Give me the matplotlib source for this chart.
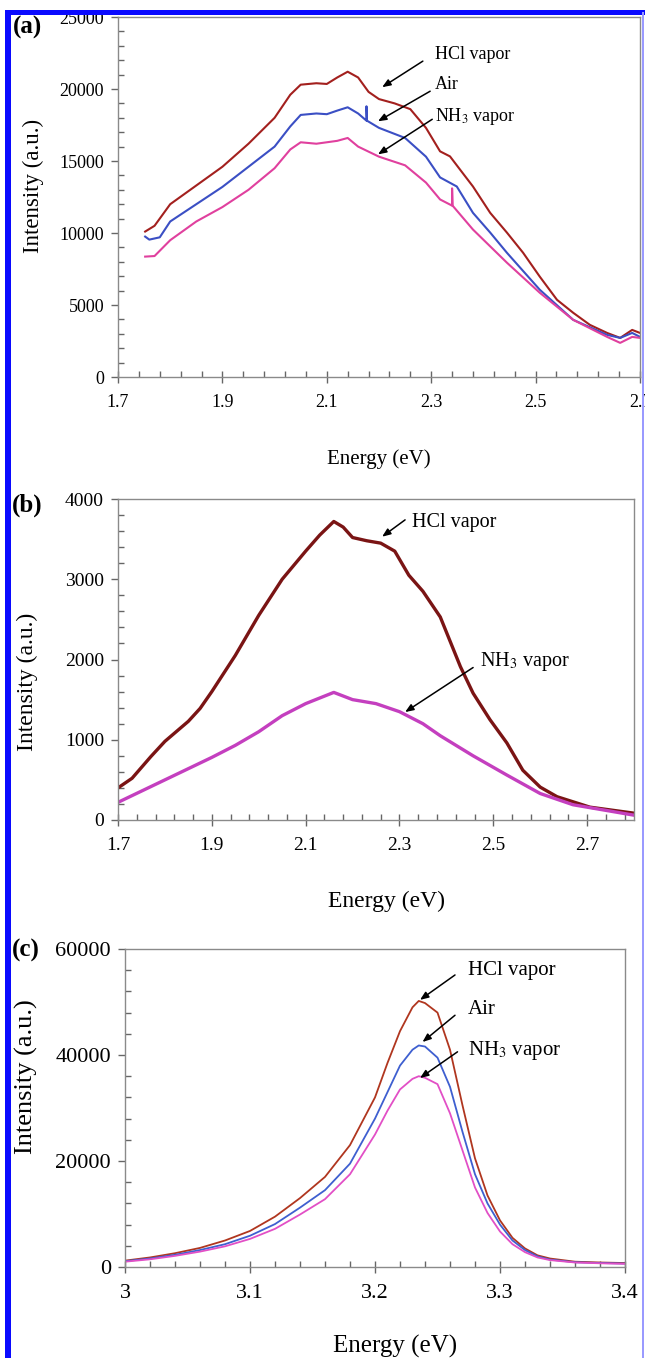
import matplotlib
matplotlib.use("Agg")
import numpy as np
import matplotlib.pyplot as plt
from matplotlib.patches import Rectangle
from matplotlib.ticker import MultipleLocator, FixedLocator

plt.rcParams['font.family'] = ['Liberation Serif', 'DejaVu Serif']
plt.rcParams['mathtext.fontset'] = 'stix'

# ---------------- Panel (a) data ----------------
a_hcl_E = [1.752, 1.77, 1.80, 1.85, 1.90, 1.95, 2.00, 2.03, 2.05, 2.08, 2.10, 2.12, 2.14, 2.16, 2.18, 2.20,
           2.23, 2.26, 2.29, 2.317, 2.336, 2.355, 2.380, 2.413, 2.445, 2.476, 2.508, 2.541, 2.572, 2.604,
           2.637, 2.662, 2.685, 2.70]
a_hcl_I = [10100, 10500, 12000, 13300, 14600, 16200, 18000, 19600, 20300, 20400, 20350, 20800, 21200, 20800,
           19800, 19300, 19000, 18600, 17300, 15670, 15320, 14415, 13230, 11400, 10030, 8630, 6970, 5360,
           4460, 3620, 3060, 2715, 3270, 3060]

a_air_E = [1.752, 1.76, 1.78, 1.80, 1.85, 1.90, 1.95, 2.00, 2.03, 2.05, 2.08, 2.10, 2.12, 2.14, 2.16, 2.176,
           2.176, 2.177, 2.20, 2.25, 2.29, 2.317, 2.349, 2.380, 2.413, 2.445, 2.508, 2.572, 2.637, 2.662,
           2.685, 2.70]
a_air_I = [9750, 9540, 9700, 10800, 12000, 13200, 14600, 16000, 17400, 18200, 18300, 18250, 18500, 18730,
           18300, 17800, 18800, 17800, 17300, 16600, 15300, 13860, 13230, 11400, 10030, 8630, 6060, 3970,
           2925, 2715, 3060, 2785]

a_nh3_E = [1.752, 1.77, 1.80, 1.85, 1.90, 1.95, 2.00, 2.03, 2.05, 2.08, 2.10, 2.12, 2.14, 2.16, 2.20, 2.25,
           2.29, 2.317, 2.34, 2.34, 2.341, 2.380, 2.445, 2.508, 2.572, 2.637, 2.662, 2.685, 2.70]
a_nh3_I = [8360, 8400, 9500, 10800, 11800, 13000, 14500, 15800, 16300, 16200, 16300, 16400, 16600, 16000,
           15300, 14700, 13500, 12330, 11900, 13100, 11900, 10240, 7940, 5850, 3970, 2785, 2370, 2785, 2715]

a_xticks = [1.7, 1.9, 2.1, 2.3, 2.5, 2.7]
a_xtick_labels = ['1.7', '1.9', '2.1', '2.3', '2.5', '2.7']

# ---------------- Panel (b) data ----------------
b_hcl_E = [1.70, 1.73, 1.77, 1.80, 1.85, 1.875, 1.90, 1.95, 2.00, 2.05, 2.10, 2.13, 2.16, 2.18, 2.20, 2.23,
           2.26, 2.29, 2.32, 2.35, 2.387, 2.43, 2.457, 2.493, 2.529, 2.563, 2.60, 2.636, 2.706, 2.80]
b_hcl_I = [400, 520, 790, 980, 1230, 1390, 1600, 2050, 2550, 3000, 3350, 3550, 3720, 3650, 3520, 3480,
           3450, 3350, 3050, 2850, 2530, 1910, 1580, 1250, 960, 620, 410, 290, 160, 85]

b_nh3_E = [1.70, 1.75, 1.80, 1.875, 1.90, 1.95, 2.00, 2.05, 2.10, 2.16, 2.20, 2.25, 2.30, 2.35, 2.387,
           2.457, 2.529, 2.60, 2.67, 2.80]
b_nh3_I = [220, 360, 500, 710, 780, 930, 1100, 1300, 1450, 1590, 1500, 1450, 1350, 1200, 1050,
           800, 560, 330, 190, 60]

b_xticks = [1.7, 1.9, 2.1, 2.3, 2.5, 2.7]
b_xtick_labels = ['1.7', '1.9', '2.1', '2.3', '2.5', '2.7']

# ---------------- Panel (c) data ----------------
c_E = [3.00, 3.02, 3.04, 3.06, 3.08, 3.10, 3.12, 3.14, 3.16, 3.18, 3.20, 3.21, 3.22, 3.23, 3.235,
       3.24, 3.25, 3.26, 3.27, 3.28, 3.29, 3.30, 3.31, 3.32, 3.33, 3.34, 3.36, 3.38, 3.40]
c_hcl_I = [1200, 1800, 2600, 3600, 5000, 6800, 9500, 13000, 17000, 23000, 32000, 38500, 44500, 49000, 50200,
           49800, 48000, 41000, 30500, 20500, 13500, 8800, 5500, 3500, 2200, 1600, 1000, 850, 750]
c_air_I = [1100, 1600, 2300, 3200, 4300, 5900, 8100, 11200, 14500, 19500, 28000, 33000, 38000, 41000, 41800,
           41600, 39500, 34000, 25500, 17500, 12000, 8000, 5000, 3200, 2000, 1400, 900, 750, 650]
c_nh3_I = [1000, 1450, 2100, 2900, 3900, 5300, 7200, 9900, 12800, 17500, 25000, 29500, 33500, 35500, 36000,
           35700, 34500, 29000, 22000, 15000, 10200, 6700, 4300, 2800, 1800, 1300, 850, 700, 600]

c_xticks = [3.0, 3.1, 3.2, 3.3, 3.4]
c_xtick_labels = ['3', '3.1', '3.2', '3.3', '3.4']

# ---------------- figure ----------------
W, H = 645, 1358
fig = plt.figure(figsize=(W / 100, H / 100), dpi=100)
fig.patch.set_facecolor('white')


def box(l, r, t, b):
    return [l / W, 1 - b / H, (r - l) / W, (b - t) / H]


ax_a = fig.add_axes(box(118, 640, 17, 377))
ax_b = fig.add_axes(box(118, 634, 499, 820))
ax_c = fig.add_axes(box(125, 625, 949, 1267))

spine_col = '#8a8a8a'


def style(ax, xlim, ylim, xticks, xlabels, xmin_step, ymaj, ymin, fs):
    ax.set_xlim(*xlim)
    ax.set_ylim(*ylim)
    ax.set_xticks(xticks)
    ax.set_xticklabels(xlabels)
    ax.xaxis.set_minor_locator(FixedLocator(np.arange(xlim[0], xlim[1] + 1e-9, xmin_step)))
    ax.yaxis.set_major_locator(MultipleLocator(ymaj))
    ax.yaxis.set_minor_locator(MultipleLocator(ymin))
    for s in ax.spines.values():
        s.set_color(spine_col)
        s.set_linewidth(1.0)
    ax.tick_params(axis='x', which='major', direction='inout', length=8, width=1, color='#666666',
                   labelsize=fs, pad=8)
    ax.tick_params(axis='x', which='minor', direction='in', length=4, width=1, color='#666666')
    ax.tick_params(axis='y', which='major', direction='out', length=5, width=1, color='#666666',
                   labelsize=fs, pad=5)
    ax.tick_params(axis='y', which='minor', direction='in', length=4, width=1, color='#666666')
    ax.tick_params(which='both', top=False, right=False)


# Panel (a)
style(ax_a, (1.7, 2.7), (0, 25000), a_xticks, a_xtick_labels, 0.04, 5000, 1000, 13)
ax_a.plot(a_hcl_E, a_hcl_I, color='#a3201e', lw=1.5)
ax_a.plot(a_air_E, a_air_I, color='#3b4fc4', lw=1.5)
ax_a.plot(a_nh3_E, a_nh3_I, color='#e0409e', lw=1.5)
ax_a.set_xlabel('Energy (eV)', fontsize=15)
ax_a.set_ylabel('Intensity (a.u.)', fontsize=16.5)
ax_a.xaxis.set_label_coords(0.5, -0.20)
ax_a.yaxis.set_label_coords((44 - 118) / (640 - 118), 0.53)

# Panel (b)
style(ax_b, (1.7, 2.8), (0, 4000), b_xticks, b_xtick_labels, 0.04, 1000, 200, 14)
ax_b.plot(b_hcl_E, b_hcl_I, color='#7a1414', lw=2.4)
ax_b.plot(b_nh3_E, b_nh3_I, color='#c43fbf', lw=2.4)
ax_b.set_xlabel('Energy (eV)', fontsize=17)
ax_b.set_ylabel('Intensity (a.u.)', fontsize=17)
ax_b.xaxis.set_label_coords((387 - 118) / (634 - 118), -0.22)
ax_b.yaxis.set_label_coords((38 - 118) / (634 - 118), 0.43)

# Panel (c)
style(ax_c, (3.0, 3.4), (0, 60000), c_xticks, c_xtick_labels, 0.02, 20000, 4000, 16)
ax_c.plot(c_E, c_hcl_I, color='#b0361f', lw=1.3)
ax_c.plot(c_E, c_air_I, color='#3e5fd0', lw=1.3)
ax_c.plot(c_E, c_nh3_I, color='#e24fc6', lw=1.3)
ax_c.set_xlabel('Energy (eV)', fontsize=18)
ax_c.set_ylabel('Intensity (a.u.)', fontsize=19)
ax_c.xaxis.set_label_coords((395 - 125) / 500, -0.215)
ax_c.yaxis.set_label_coords((38 - 125) / 500, 0.60)

arrow_kw = dict(arrowstyle='-|>,head_length=0.5,head_width=0.2', color='black', lw=1.1,
                shrinkA=0, shrinkB=0)

# annotations (a)
ax_a.annotate('', xy=(2.206, 20125), xytext=(2.284, 21936), arrowprops=arrow_kw)
ax_a.annotate('', xy=(2.198, 17758), xytext=(2.298, 19847), arrowprops=arrow_kw)
ax_a.annotate('', xy=(2.198, 15460), xytext=(2.302, 17897), arrowprops=arrow_kw)
ax_a.text(2.307, 22423, 'HCl vapor', fontsize=13, va='center', ha='left')
ax_a.text(2.307, 20334, 'Air', fontsize=13, va='center', ha='left')
ax_a.text(2.307, 18106, 'NH$_3$ vapor', fontsize=13, va='center', ha='left')

# annotations (b)
ax_b.annotate('', xy=(2.263, 3530), xytext=(2.312, 3740), arrowprops=arrow_kw)
ax_b.annotate('', xy=(2.312, 1345), xytext=(2.457, 1900), arrowprops=arrow_kw)
ax_b.text(2.327, 3713, 'HCl vapor', fontsize=14.5, va='center', ha='left')
ax_b.text(2.472, 1970, 'NH$_3$ vapor', fontsize=14.5, va='center', ha='left')

# annotations (c)
ax_c.annotate('', xy=(3.236, 50400), xytext=(3.264, 55100), arrowprops=arrow_kw)
ax_c.annotate('', xy=(3.238, 42450), xytext=(3.264, 47500), arrowprops=arrow_kw)
ax_c.annotate('', xy=(3.236, 35660), xytext=(3.266, 40600), arrowprops=arrow_kw)
ax_c.text(3.274, 56000, 'HCl vapor', fontsize=15, va='center', ha='left')
ax_c.text(3.274, 48500, 'Air', fontsize=15, va='center', ha='left')
ax_c.text(3.274, 40900, 'NH$_3$ vapor', fontsize=15, va='center', ha='left')

# panel letters
fig.text(27 / W, 1 - 27 / H, '(a)', fontsize=18, fontweight='bold', ha='center', va='center')
fig.text(27 / W, 1 - 505 / H, '(b)', fontsize=18, fontweight='bold', ha='center', va='center')
fig.text(26 / W, 1 - 950 / H, '(c)', fontsize=18, fontweight='bold', ha='center', va='center')

# blue frame
fig.add_artist(Rectangle((5 / W, 1 - 15 / H), (W - 5) / W, 5 / H, transform=fig.transFigure,
                         facecolor='#0a0aff', edgecolor='none'))
fig.add_artist(Rectangle((5 / W, 0), 6 / W, 1 - 10 / H, transform=fig.transFigure,
                         facecolor='#0a0aff', edgecolor='none'))
fig.add_artist(Rectangle((642 / W, 0), 2 / W, 1 - 12 / H, transform=fig.transFigure,
                         facecolor='#9a9aff', edgecolor='none'))

fig.savefig('out.png', dpi=100, facecolor='white')
